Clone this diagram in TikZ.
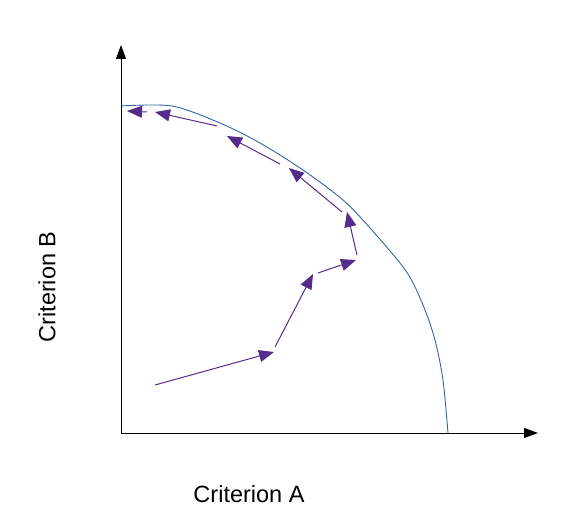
\documentclass[tikz,border=0pt]{standalone}
\usepackage{fontspec}
\setmainfont{Liberation Sans}
\usetikzlibrary{arrows.meta}
\definecolor{stepcol}{RGB}{84,44,140}
\definecolor{frontcol}{RGB}{52,101,164}

\begin{document}
\begin{tikzpicture}[x=1pt,y=-1pt,
    axis/.style = {-{Triangle[length=14pt,width=10pt]}, black, line width=1pt},
    move/.style = {-{Triangle[length=15pt,width=12pt]}, stepcol, line width=1pt},
    label/.style = {font=\fontsize{23.5}{28}\selectfont}]
    \useasboundingbox (0,0) rectangle (574,532);

    % axes
    \coordinate (o) at (121,433);
    \coordinate (ytop) at (121,45);
    \coordinate (xend) at (538,433);
    \draw[axis] (o) -- (ytop);
    \draw[axis] (o) -- (xend);
    \node[label] (xlab) at (249,494) {Criterion A};
    \node[label,rotate=90] (ylab) at (47,287) {Criterion B};

    % front
    \draw[frontcol, line width=0.9pt] plot[smooth, tension=0.5] coordinates {(121,106) (172,106) (220,123) (260,143) (303,170) (343,200) (370,228) (406,271) (423,305) (435,340) (443,380) (448,433)};

    % improvement steps
    \coordinate (s1) at (155,385);  \coordinate (e1) at (274,352);
    \coordinate (s2) at (275,347);  \coordinate (e2) at (313,274);
    \coordinate (s3) at (318,273);  \coordinate (e3) at (356,260);
    \coordinate (s4) at (357,255);  \coordinate (e4) at (347,212);
    \coordinate (s5) at (342,212);  \coordinate (e5) at (289,168);
    \coordinate (s6) at (280,164);  \coordinate (e6) at (227,136);
    \coordinate (s7) at (217,126);  \coordinate (e7) at (155,112);
    \coordinate (s8) at (147,112);  \coordinate (e8) at (127,111);
    \foreach \i in {1,...,8}
      \draw[move] (s\i) -- (e\i);
\end{tikzpicture}
\end{document}
